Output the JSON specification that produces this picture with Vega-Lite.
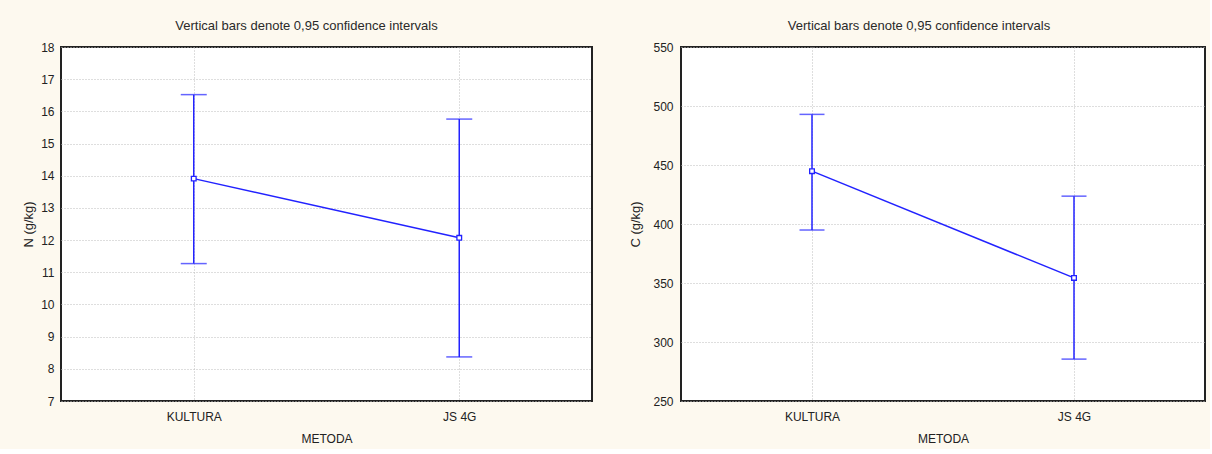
{
  "$schema": "https://vega.github.io/schema/vega-lite/v6.json",
  "background": "#fdf9ef",
  "padding": {"left": 21, "top": 19, "right": 4, "bottom": 4},
  "spacing": 35,
  "config": {
    "font": "Liberation Sans",
    "view": {"fill": "white", "stroke": "#222", "strokeWidth": 2},
    "axis": {
      "labelFont": "Liberation Sans",
      "labelFontSize": 12,
      "labelColor": "#222",
      "labelOverlap": false,
      "titleFont": "Liberation Sans",
      "titleFontSize": 12,
      "titleFontWeight": "normal",
      "titleColor": "#222",
      "domain": false,
      "ticks": false,
      "grid": true,
      "gridColor": "#bdbdbd",
      "gridDash": [1, 2],
      "gridWidth": 1
    },
    "title": {
      "font": "Liberation Sans",
      "fontSize": 13,
      "fontWeight": "normal",
      "color": "#2a2a2a",
      "offset": 8,
      "anchor": "middle"
    }
  },
  "datasets": {
    "n": [
      {"metoda": "KULTURA", "mean": 13.91, "lo": 11.27, "hi": 16.52},
      {"metoda": "JS 4G", "mean": 12.07, "lo": 8.37, "hi": 15.76}
    ],
    "c": [
      {"metoda": "KULTURA", "mean": 444.8, "lo": 394.9, "hi": 492.9},
      {"metoda": "JS 4G", "mean": 354.3, "lo": 285.5, "hi": 423.6}
    ]
  },
  "hconcat": [
    {
      "width": 531,
      "height": 354,
      "data": {"name": "n"},
      "title": {"text": "Vertical bars denote 0,95 confidence intervals", "dx": -20},
      "encoding": {
        "x": {
          "field": "metoda", "type": "nominal", "sort": ["KULTURA", "JS 4G"],
          "scale": {"type": "point", "padding": 0.5},
          "axis": {"title": "METODA", "labelAngle": 0, "labelPadding": 10, "titlePadding": 11}
        }
      },
      "layer": [
        {
          "mark": {"type": "line", "color": "#2222ff", "strokeWidth": 1.5},
          "encoding": {
            "y": {
              "field": "mean", "type": "quantitative",
              "scale": {"domain": [7, 18], "nice": false, "zero": false},
              "axis": {"title": "N (g/kg)", "titleFontSize": 13, "values": [7,8,9,10,11,12,13,14,15,16,17,18], "tickCount": 12, "labelOverlap": false, "labelPadding": 7, "titlePadding": 5}
            }
          }
        },
        {
          "mark": {"type": "rule", "color": "#2222ff", "strokeWidth": 1.5},
          "encoding": {"y": {"field": "lo", "type": "quantitative", "axis": {"title": "N (g/kg)", "titleFontSize": 13, "values": [7,8,9,10,11,12,13,14,15,16,17,18], "tickCount": 12, "labelOverlap": false, "labelPadding": 7, "titlePadding": 5}}, "y2": {"field": "hi"}}
        },
        {
          "mark": {"type": "tick", "color": "#2222ff", "thickness": 1.5, "size": 26},
          "encoding": {"y": {"field": "lo", "type": "quantitative", "axis": {"title": "N (g/kg)", "titleFontSize": 13, "values": [7,8,9,10,11,12,13,14,15,16,17,18], "tickCount": 12, "labelOverlap": false, "labelPadding": 7, "titlePadding": 5}}}
        },
        {
          "mark": {"type": "tick", "color": "#2222ff", "thickness": 1.5, "size": 26},
          "encoding": {"y": {"field": "hi", "type": "quantitative", "axis": {"title": "N (g/kg)", "titleFontSize": 13, "values": [7,8,9,10,11,12,13,14,15,16,17,18], "tickCount": 12, "labelOverlap": false, "labelPadding": 7, "titlePadding": 5}}}
        },
        {
          "mark": {"type": "point", "shape": "square", "size": 22, "filled": false, "fill": "white", "fillOpacity": 1, "stroke": "#2222ff", "strokeWidth": 1.3, "opacity": 1},
          "encoding": {"y": {"field": "mean", "type": "quantitative", "axis": {"title": "N (g/kg)", "titleFontSize": 13, "values": [7,8,9,10,11,12,13,14,15,16,17,18], "tickCount": 12, "labelOverlap": false, "labelPadding": 7, "titlePadding": 5}}}
        }
      ]
    },
    {
      "width": 524,
      "height": 354,
      "data": {"name": "c"},
      "title": {"text": "Vertical bars denote 0,95 confidence intervals", "dx": -24},
      "encoding": {
        "x": {
          "field": "metoda", "type": "nominal", "sort": ["KULTURA", "JS 4G"],
          "scale": {"type": "point", "padding": 0.5},
          "axis": {"title": "METODA", "labelAngle": 0, "labelPadding": 10, "titlePadding": 11}
        }
      },
      "layer": [
        {
          "mark": {"type": "line", "color": "#2222ff", "strokeWidth": 1.5},
          "encoding": {
            "y": {
              "field": "mean", "type": "quantitative",
              "scale": {"domain": [250, 550], "nice": false, "zero": false},
              "axis": {"title": "C (g/kg)", "titleFontSize": 13, "values": [250,300,350,400,450,500,550], "labelOverlap": false, "labelPadding": 8, "titlePadding": 10}
            }
          }
        },
        {
          "mark": {"type": "rule", "color": "#2222ff", "strokeWidth": 1.5},
          "encoding": {"y": {"field": "lo", "type": "quantitative", "axis": {"title": "C (g/kg)", "titleFontSize": 13, "values": [250,300,350,400,450,500,550], "labelOverlap": false, "labelPadding": 8, "titlePadding": 10}}, "y2": {"field": "hi"}}
        },
        {
          "mark": {"type": "tick", "color": "#2222ff", "thickness": 1.5, "size": 25},
          "encoding": {"y": {"field": "lo", "type": "quantitative", "axis": {"title": "C (g/kg)", "titleFontSize": 13, "values": [250,300,350,400,450,500,550], "labelOverlap": false, "labelPadding": 8, "titlePadding": 10}}}
        },
        {
          "mark": {"type": "tick", "color": "#2222ff", "thickness": 1.5, "size": 25},
          "encoding": {"y": {"field": "hi", "type": "quantitative", "axis": {"title": "C (g/kg)", "titleFontSize": 13, "values": [250,300,350,400,450,500,550], "labelOverlap": false, "labelPadding": 8, "titlePadding": 10}}}
        },
        {
          "mark": {"type": "point", "shape": "square", "size": 22, "filled": false, "fill": "white", "fillOpacity": 1, "stroke": "#2222ff", "strokeWidth": 1.3, "opacity": 1},
          "encoding": {"y": {"field": "mean", "type": "quantitative", "axis": {"title": "C (g/kg)", "titleFontSize": 13, "values": [250,300,350,400,450,500,550], "labelOverlap": false, "labelPadding": 8, "titlePadding": 10}}}
        }
      ]
    }
  ]
}
